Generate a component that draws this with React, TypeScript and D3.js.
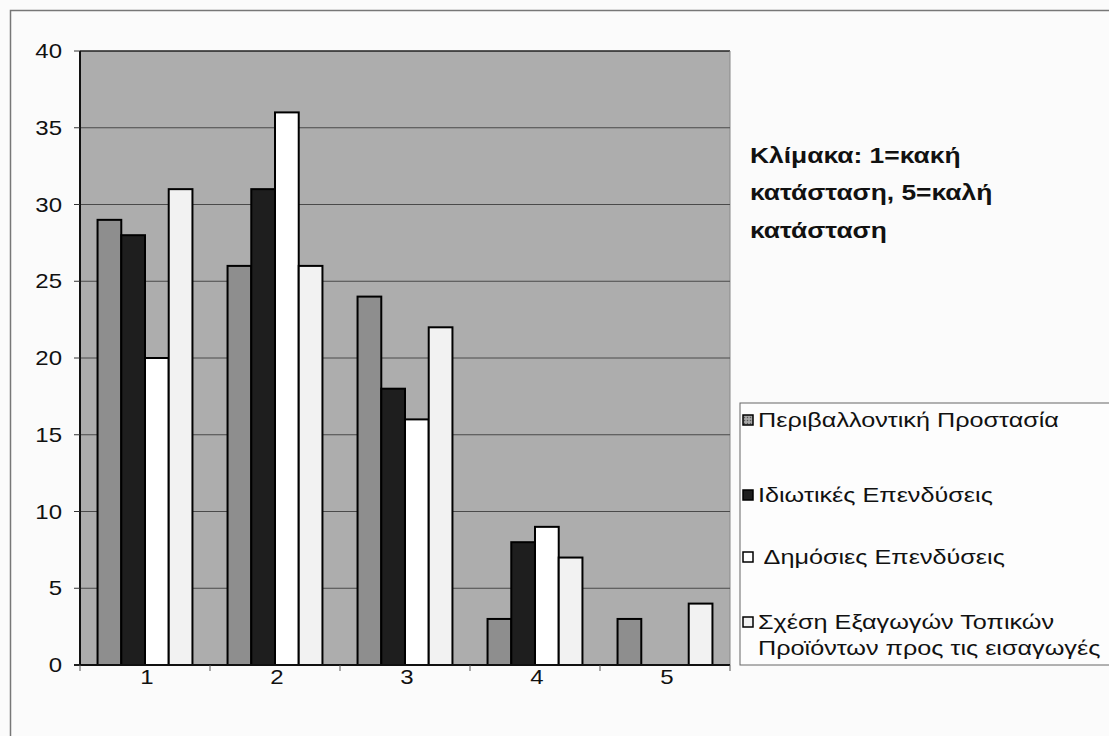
import React from "react";
import * as d3 from "d3";

// Rating scale categories (1 = poor, 5 = good)
const categories = ["1", "2", "3", "4", "5"];

const seriesNames = [
  "Περιβαλλοντική Προστασία",
  "Ιδιωτικές Επενδύσεις",
  " Δημόσιες Επενδύσεις",
  "Σχέση Εξαγωγών Τοπικών|Προϊόντων προς τις εισαγωγές",
];

const environmentalProtection = [29, 26, 24, 3, 3];
const privateInvestment = [28, 31, 18, 8, 0];
const publicInvestment = [20, 36, 16, 9, 0];
const exportImportRatio = [31, 26, 22, 7, 4];

const seriesValues = [
  environmentalProtection,
  privateInvestment,
  publicInvestment,
  exportImportRatio,
];

const yTicks = [0, 5, 10, 15, 20, 25, 30, 35, 40];

const noteLines = ["Κλίμακα: 1=κακή", "κατάσταση, 5=καλή", "κατάσταση"];

const seriesFill = ["#8e8e8e", "#1e1e1e", "#ffffff", "#f2f2f2"];

const W = 1109;
const H = 736;
const plot = { left: 80, right: 730, top: 51, bottom: 665 };
const font = "'Liberation Sans', Arial, sans-serif";
// the chart's lettering is set slightly wide
const SX = 1.2;

function Label(props: {
  x: number;
  y: number;
  size: number;
  anchor?: "start" | "middle" | "end";
  bold?: boolean;
  children: React.ReactNode;
}) {
  return (
    <text
      transform={`translate(${props.x},${props.y}) scale(${SX},1)`}
      dy="0.35em"
      textAnchor={props.anchor ?? "start"}
      fontSize={props.size}
      fontWeight={props.bold ? "bold" : "normal"}
      fill="#111"
      style={{ whiteSpace: "pre" }}
    >
      {props.children}
    </text>
  );
}

export default function App() {
  const x0 = d3
    .scaleBand<string>()
    .domain(categories)
    .range([plot.left, plot.right])
    .paddingInner(0.27)
    .paddingOuter(0.135);
  const x1 = d3
    .scaleBand<number>()
    .domain(seriesValues.map((_, i) => i))
    .range([0, x0.bandwidth()]);
  const y = d3.scaleLinear().domain([0, 40]).range([plot.bottom, plot.top]);

  const step = x0.step();
  const boundaries = d3.range(categories.length + 1).map((i) => plot.left + i * step);

  const legendRows = [420, 495, 557, 622];

  return (
    <svg
      width={W}
      height={H}
      style={{ position: "absolute", left: 0, top: 0, background: "#fbfbfb" }}
      fontFamily={font}
    >
      <defs>
        <pattern id="dots" width="3" height="3" patternUnits="userSpaceOnUse">
          <rect width="3" height="3" fill="#9a9a9a" />
          <rect width="1" height="1" fill="#5a5a5a" />
          <rect x="1.5" y="1.5" width="1" height="1" fill="#d0d0d0" />
        </pattern>
      </defs>

      {/* outer chart frame */}
      <rect x={10.5} y={10.5} width={W + 20} height={H + 20} fill="none" stroke="#777" strokeWidth={1.5} />

      {/* plot area */}
      <rect
        x={plot.left}
        y={plot.top}
        width={plot.right - plot.left}
        height={plot.bottom - plot.top}
        fill="#adadad"
      />
      <line x1={plot.left} x2={plot.right} y1={plot.top} y2={plot.top} stroke="#222" strokeWidth={1.5} />
      <line x1={plot.right} x2={plot.right} y1={plot.top} y2={plot.bottom} stroke="#888" strokeWidth={1} />

      {/* gridlines */}
      {yTicks
        .filter((t) => t > 0 && t < 40)
        .map((t) => (
          <line key={t} x1={plot.left} x2={plot.right} y1={y(t)} y2={y(t)} stroke="#4a4a4a" strokeWidth={1} />
        ))}

      {/* bars */}
      {categories.map((c, ci) => (
        <g key={c} transform={`translate(${x0(c)},0)`}>
          {seriesValues.map((vals, si) =>
            vals[ci] > 0 ? (
              <rect
                key={si}
                x={x1(si)}
                y={y(vals[ci])}
                width={x1.bandwidth()}
                height={y(0) - y(vals[ci])}
                fill={seriesFill[si]}
                stroke="#000"
                strokeWidth={2}
              />
            ) : null
          )}
        </g>
      ))}

      {/* axes */}
      <line x1={plot.left} x2={plot.left} y1={plot.top} y2={plot.bottom} stroke="#111" strokeWidth={2} />
      <line x1={plot.left - 6} x2={plot.right} y1={plot.bottom} y2={plot.bottom} stroke="#111" strokeWidth={2} />
      {yTicks.map((t) => (
        <g key={t}>
          <line x1={plot.left - 6} x2={plot.left} y1={y(t)} y2={y(t)} stroke="#333" strokeWidth={1} />
          <Label x={62} y={y(t)} size={20} anchor="end">
            {t}
          </Label>
        </g>
      ))}
      {boundaries.map((bx, i) => (
        <line key={i} x1={bx} x2={bx} y1={plot.bottom} y2={plot.bottom + 6} stroke="#555" strokeWidth={1} />
      ))}
      {categories.map((c) => (
        <Label key={c} x={(x0(c) as number) + x0.bandwidth() / 2 + 2} y={677} size={20} anchor="middle">
          {c}
        </Label>
      ))}

      {/* scale note */}
      {noteLines.map((l, i) => (
        <Label key={i} x={750} y={155 + i * 37.5} size={22} bold>
          {l}
        </Label>
      ))}

      {/* legend */}
      <rect x={740} y={403} width={W - 740 + 10} height={262} fill="#fdfdfd" stroke="#666" strokeWidth={1} />
      {seriesNames.map((name, si) => {
        const yy = legendRows[si];
        const lines = name.split("|");
        return (
          <g key={si}>
            <rect
              x={743}
              y={yy - 5}
              width={10}
              height={10}
              fill={si === 0 ? "url(#dots)" : seriesFill[si]}
              stroke="#000"
              strokeWidth={1.5}
            />
            {lines.map((ln, li) => (
              <Label key={li} x={758} y={yy + li * 26} size={21}>
                {ln}
              </Label>
            ))}
          </g>
        );
      })}
    </svg>
  );
}
